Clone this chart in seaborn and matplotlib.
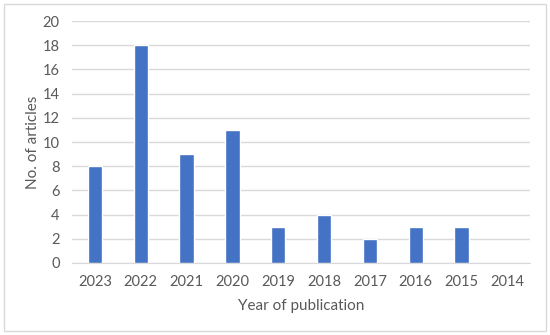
import matplotlib.pyplot as plt
import matplotlib.patches as mpatches
import seaborn as sns
import pandas as pd

years = ['2023', '2022', '2021', '2020', '2019', '2018', '2017', '2016', '2015', '2014']
articles = [8, 18, 9, 11, 3, 4, 2, 3, 3, 0]

sns.set_style('white')
plt.rcParams['font.family'] = ['Lato', 'DejaVu Sans']

df = pd.DataFrame({'year': years, 'articles': articles})

fig = plt.figure(figsize=(5.5, 3.35), dpi=100)
ax = fig.add_axes([0.131, 0.215, 0.833, 0.722])

sns.barplot(data=df, x='year', y='articles', order=years, color='#4472C4',
            saturation=1, width=0.31, ax=ax, zorder=3)

ax.set_ylim(0, 20)
ax.set_yticks(range(0, 21, 2))
ax.set_xlim(-0.5, len(years) - 0.5)
ax.yaxis.grid(True, color='#D9D9D9', linewidth=1, zorder=0)
ax.set_axisbelow(True)
for s in ['top', 'right', 'left']:
    ax.spines[s].set_visible(False)
ax.spines['bottom'].set_color('#D9D9D9')
ax.tick_params(axis='both', length=0, labelsize=10.5, labelcolor='#595959')
ax.tick_params(axis='x', pad=9)
ax.tick_params(axis='y', pad=9)
ax.set_xlabel('Year of publication', fontsize=11, color='#595959', labelpad=7)
ax.set_ylabel('No. of articles', fontsize=11, color='#595959', labelpad=2)

fig.patches.append(mpatches.Rectangle((0.008, 0.012), 0.984, 0.976, transform=fig.transFigure,
                                      fill=False, edgecolor='#D9D9D9', linewidth=1))

plt.savefig('out.png', dpi=100)
